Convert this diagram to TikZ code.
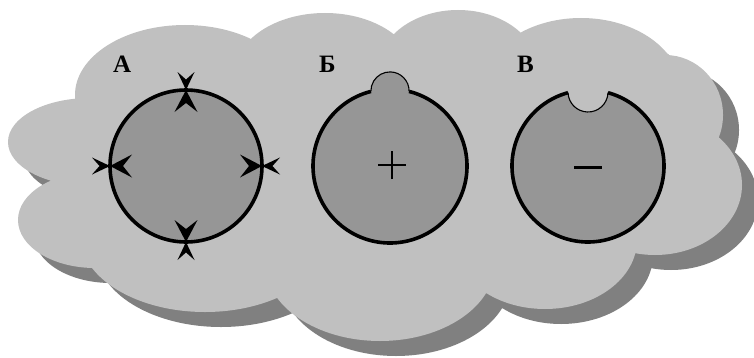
\documentclass[tikz,border=0pt]{standalone}
\usepackage{fontspec}
\setmainfont{Liberation Serif}
\definecolor{cloudgray}{HTML}{C0C0C0}
\definecolor{shadowgray}{HTML}{808080}
\definecolor{cellgray}{HTML}{969696}
\newcommand\cloudshape{%
  (185,262) ellipse[x radius=110, y radius=70]
  (325,284) ellipse[x radius=90, y radius=60]
  (458,287) ellipse[x radius=80, y radius=60]
  (581,267) ellipse[x radius=100, y radius=72]
  (665,242) ellipse[x radius=58, y radius=60]
  (655,172) ellipse[x radius=87, y radius=70]
  (545,117) ellipse[x radius=92, y radius=69]
  (380,94) ellipse[x radius=115, y radius=78]
  (205,122) ellipse[x radius=125, y radius=77]
  (95,137) ellipse[x radius=77, y radius=48]
  (90,215) ellipse[x radius=82, y radius=44]
  (380,177) ellipse[x radius=290, y radius=120]}
\tikzset{
  cellfill/.style={fill=cellgray},
  thickline/.style={line width=3.6pt, black},
  thinline/.style={line width=1.1pt, black},
  lbl/.style={anchor=base west, inner sep=0pt, font=\bfseries\fontsize{25}{25}\selectfont},
  intip/.pic={\fill[black] (0,0) -- (-22,11.5) -- (-13,0) -- (-22,-11.5) -- cycle;},
  outtip/.pic={\fill[black] (0,0) -- (-18,8.5) -- (-10.5,0) -- (-18,-8.5) -- cycle;}
}
\begin{document}
\begin{tikzpicture}[x=1pt,y=1pt]
\useasboundingbox (0,0) rectangle (754,357);
\fill[white] (0,0) rectangle (754,357);
% cloud with shadow
\begin{scope}[shift={(16,-15)}]
  \fill[shadowgray] \cloudshape;
\end{scope}
\fill[cloudgray] \cloudshape;
% cell A
\fill[cellfill] (186,191) circle[radius=76];
\draw[thickline] (186,191) circle[radius=76];
\pic[rotate=90] at (186,267) {intip};
\pic[rotate=-90] at (186,267) {outtip};
\pic[rotate=-90] at (186,115) {intip};
\pic[rotate=90] at (186,115) {outtip};
\pic[rotate=180] at (110,191) {intip};
\pic[rotate=0] at (110,191) {outtip};
\pic[rotate=0] at (262,191) {intip};
\pic[rotate=180] at (262,191) {outtip};
% cell B (bump)
\fill[cellfill] (390,191) ++(104.35:77) arc[start angle=104.35, end angle=435.65, radius=77]
  arc[start angle=-1.2, end angle=181.2, radius=19.1] -- cycle;
\draw[thickline] (390,191) ++(104.35:77) arc[start angle=104.35, end angle=435.65, radius=77];
\draw[thinline] (390,191) ++(75.65:77) arc[start angle=-1.2, end angle=181.2, radius=19.1];
\draw[line width=1.3pt] (378,192) -- (406,192) (392,178) -- (392,206);
% cell V (notch)
\fill[cellfill] (588,191) ++(105.26:76) arc[start angle=105.26, end angle=434.74, radius=76]
  arc[start angle=358.05, end angle=181.95, radius=20] -- cycle;
\draw[thickline] (588,191) ++(105.26:76) arc[start angle=105.26, end angle=434.74, radius=76];
\draw[thinline] (588,191) ++(74.74:76) arc[start angle=358.05, end angle=181.95, radius=20];
\draw[line width=3pt] (574,190) -- (602,190);
% labels
\node[lbl] (lA) at (113,285) {А};
\node[lbl] (lB) at (319,284.5) {Б};
\node[lbl] (lV) at (517,284.5) {В};
\end{tikzpicture}
\end{document}
